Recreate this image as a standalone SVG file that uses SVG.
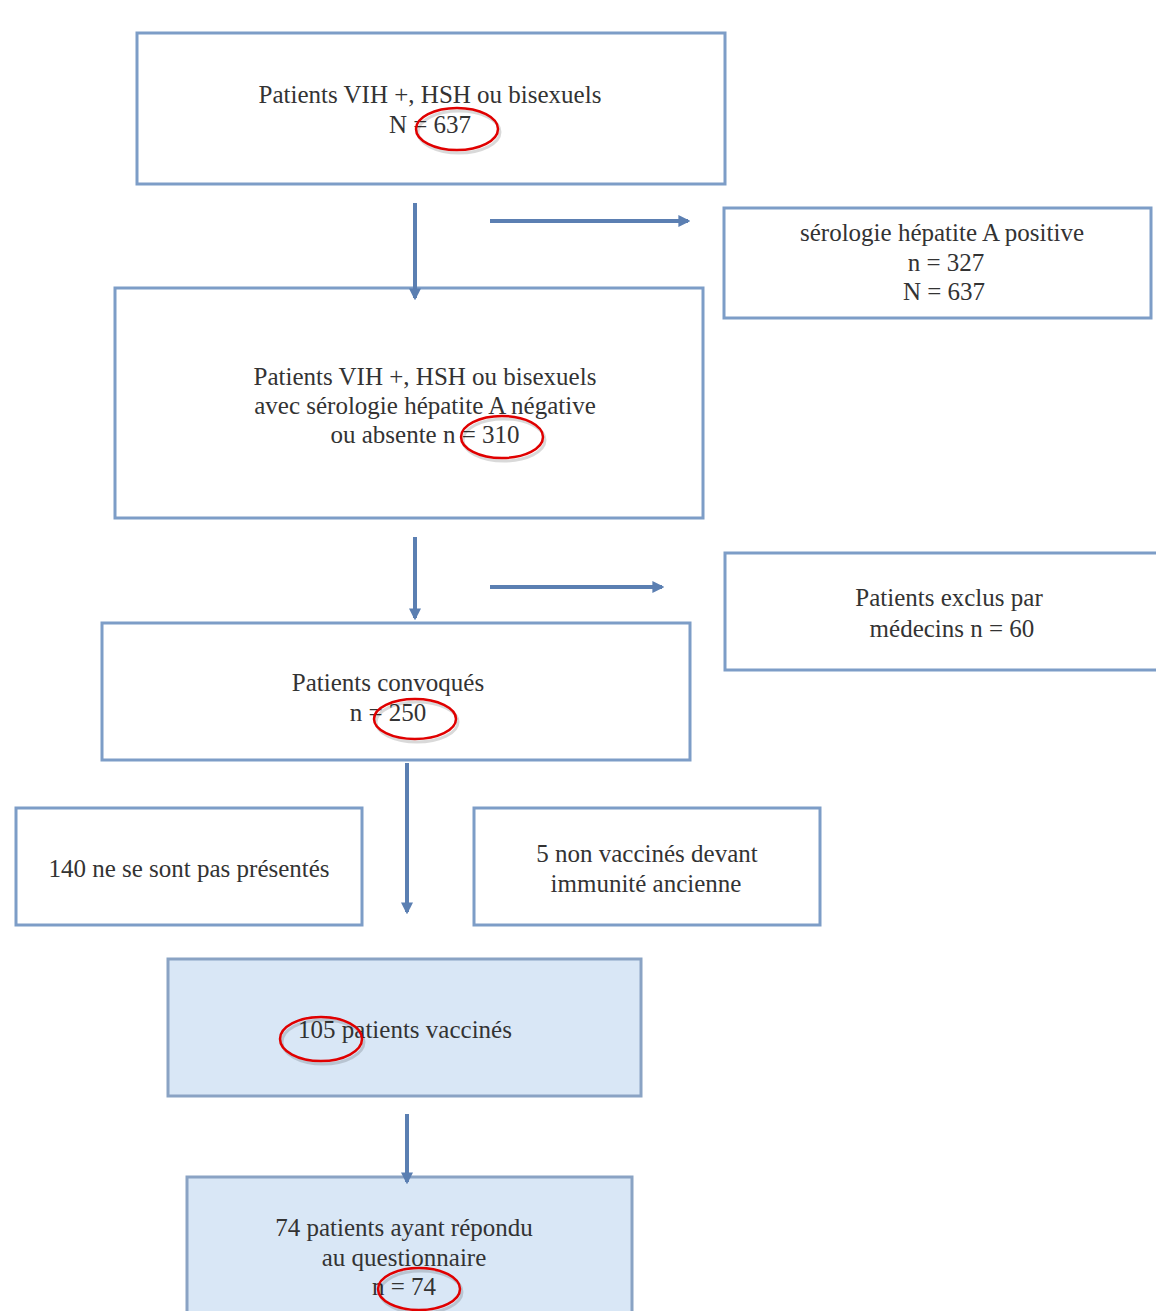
<svg xmlns="http://www.w3.org/2000/svg" width="1156" height="1311" viewBox="0 0 1156 1311">
<defs>
<style>
.box{fill:#ffffff;stroke:#7d9dc7;stroke-width:3}
.fill{fill:#d9e7f6;stroke:#8aa3c4;stroke-width:3}
.t{font-family:"Liberation Serif","DejaVu Serif","Times New Roman",serif;font-size:25px;fill:#333333;text-anchor:middle}
.c{stroke:#5b7fb2;stroke-width:4;fill:none}
.ring{fill:none;stroke:#e00000;stroke-width:2.5}
.shadow{fill:none;stroke:#000;stroke-opacity:0.15;stroke-width:3}
</style>
<marker id="ah" viewBox="0 0 10 10" refX="8" refY="5" markerWidth="3" markerHeight="3" orient="auto" markerUnits="strokeWidth">
<path d="M0,0 L10,5 L0,10 z" fill="#5b7fb2"/>
</marker>
</defs>
<rect width="1156" height="1311" fill="#ffffff"/>

<g id="node-1">
<rect class="box" x="137" y="33" width="588" height="151"/>
<text class="t" x="430" y="103">Patients VIH +, HSH ou bisexuels</text>
<text class="t" x="430" y="133">N = 637</text>
</g>

<g id="node-2">
<rect class="box" x="724" y="208" width="427" height="110"/>
<text class="t" x="942" y="241">sérologie hépatite A positive</text>
<text class="t" x="946" y="271">n = 327</text>
<text class="t" x="944" y="300">N = 637</text>
</g>

<g id="node-3">
<rect class="box" x="115" y="288" width="588" height="230"/>
<text class="t" x="425" y="385">Patients VIH +, HSH ou bisexuels</text>
<text class="t" x="425" y="414">avec sérologie hépatite A négative</text>
<text class="t" x="425" y="443">ou absente n = 310</text>
</g>

<g id="node-4">
<rect class="box" x="725" y="553" width="440" height="117"/>
<text class="t" x="949" y="606">Patients exclus par</text>
<text class="t" x="952" y="637">médecins n = 60</text>
</g>

<g id="node-5">
<rect class="box" x="102" y="623" width="588" height="137"/>
<text class="t" x="388" y="691">Patients convoqués</text>
<text class="t" x="388" y="721">n = 250</text>
</g>

<g id="node-6">
<rect class="box" x="16" y="808" width="346" height="117"/>
<text class="t" x="189" y="877">140 ne se sont pas présentés</text>
</g>

<g id="node-7">
<rect class="box" x="474" y="808" width="346" height="117"/>
<text class="t" x="647" y="862">5 non vaccinés devant</text>
<text class="t" x="646" y="892">immunité ancienne</text>
</g>

<g id="node-8">
<rect class="fill" x="168" y="959" width="473" height="137"/>
<text class="t" x="405" y="1038">105 patients vaccinés</text>
</g>

<g id="node-9">
<rect class="fill" x="187" y="1177" width="445" height="140"/>
<text class="t" x="404" y="1236">74 patients ayant répondu</text>
<text class="t" x="404" y="1266">au questionnaire</text>
<text class="t" x="404" y="1295">n = 74</text>
</g>

<g id="connectors">
<line class="c" x1="415" y1="203" x2="415" y2="298" marker-end="url(#ah)"/>
<line class="c" x1="490" y1="221" x2="688" y2="221" marker-end="url(#ah)"/>
<line class="c" x1="415" y1="537" x2="415" y2="618" marker-end="url(#ah)"/>
<line class="c" x1="490" y1="587" x2="662" y2="587" marker-end="url(#ah)"/>
<line class="c" x1="407" y1="763" x2="407" y2="912" marker-end="url(#ah)"/>
<line class="c" x1="407" y1="1114" x2="407" y2="1182" marker-end="url(#ah)"/>
</g>

<g id="highlights">
<ellipse class="shadow" cx="459" cy="132" rx="41" ry="21"/>
<ellipse class="ring" cx="457" cy="129" rx="41" ry="21"/>
<ellipse class="shadow" cx="504" cy="440" rx="41" ry="21"/>
<ellipse class="ring" cx="502" cy="437" rx="41" ry="21"/>
<ellipse class="shadow" cx="417" cy="722" rx="41" ry="20"/>
<ellipse class="ring" cx="415" cy="719" rx="41" ry="20"/>
<ellipse class="shadow" cx="323" cy="1042" rx="41" ry="22"/>
<ellipse class="ring" cx="321" cy="1039" rx="41" ry="22"/>
<ellipse class="shadow" cx="421" cy="1292" rx="41" ry="21"/>
<ellipse class="ring" cx="419" cy="1289" rx="41" ry="21"/>
</g>
</svg>
